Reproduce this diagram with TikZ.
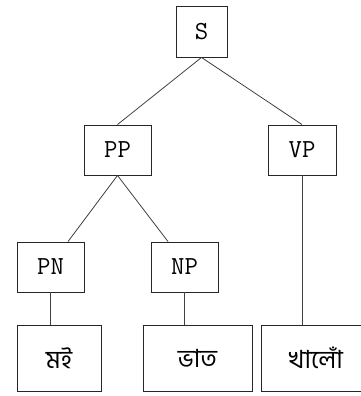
\documentclass[tikz,border=0pt]{standalone}
\usepackage{fontspec}
\newfontfamily\bnfont[Script=Bengali]{Hind Siliguri}
\tikzset{
  cat/.style={draw=black!85,line width=0.9pt,inner sep=0pt,
    font=\ttfamily\fontsize{26}{30}\selectfont},
  word/.style={draw=black!85,line width=0.9pt,inner sep=0pt,
    minimum height=66pt,font=\bnfont\fontsize{25}{30}\selectfont},
  branch/.style={draw=black!75,line width=0.8pt}
}

\begin{document}
\begin{tikzpicture}[x=1pt,y=-1pt]
  \useasboundingbox (0,0) rectangle (360,396);
  \node[cat,minimum width=51pt,minimum height=51pt] (S) at (201.5,31.5) {S};
  \node[cat,minimum width=67pt,minimum height=50pt] (PP) at (117.5,150) {PP};
  \node[cat,minimum width=68pt,minimum height=50pt] (VP) at (302,150) {VP};
  \node[cat,minimum width=67pt,minimum height=50pt] (PN) at (50.5,267) {PN};
  \node[cat,minimum width=67pt,minimum height=50pt] (NP) at (184.5,267) {NP};
  \node[word,minimum width=84pt] (moi) at (59,358) {মই};
  \node[word,minimum width=109pt] (bhat) at (197.5,358) {ভাত};
  \node[word,minimum width=110pt] (khalo) at (316,358) {খালোঁ};
  \draw[branch] (S.south) -- (PP.north);
  \draw[branch] (S.south) -- (VP.north);
  \draw[branch] (PP.south) -- ([xshift=17.5pt]PN.north);
  \draw[branch] (PP.south) -- ([xshift=-16.5pt]NP.north);
  \draw[branch] (PN.south) -- (PN.south |- moi.north);
  \draw[branch] (NP.south) -- (NP.south |- bhat.north);
  \draw[branch] (VP.south) -- (VP.south |- khalo.north);
\end{tikzpicture}
\end{document}
